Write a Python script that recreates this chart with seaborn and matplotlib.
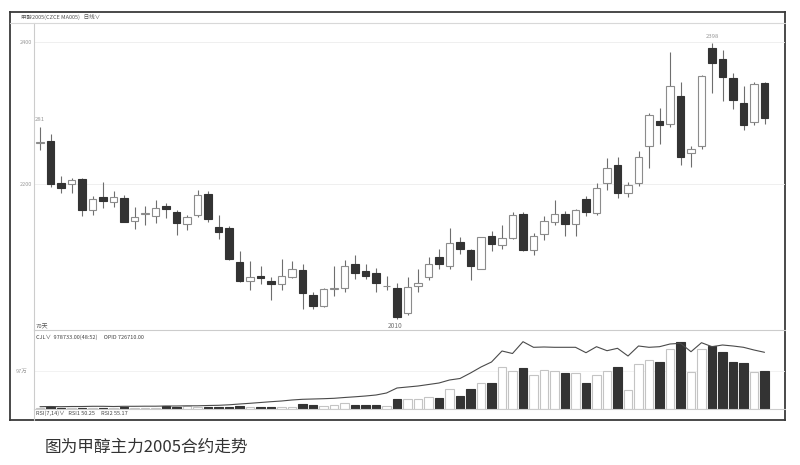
import numpy as np
import matplotlib
matplotlib.use("Agg")
import matplotlib.pyplot as plt
import seaborn as sns

# ---- data: methanol 2005 main contract, 70 daily bars -------------------------
opens = [2258, 2260, 2202, 2200, 2207, 2163, 2182, 2175, 2180, 2148,
         2158, 2155, 2169, 2161, 2143, 2157, 2186, 2139, 2138, 2090,
         2063, 2070, 2063, 2059, 2069, 2079, 2043, 2028, 2052, 2053,
         2087, 2077, 2074, 2056, 2054, 2018, 2056, 2069, 2097, 2084,
         2118, 2107, 2081, 2127, 2114, 2124, 2158, 2107, 2130, 2147,
         2158, 2143, 2179, 2159, 2201, 2227, 2187, 2201, 2253, 2289,
         2284, 2324, 2244, 2254, 2391, 2376, 2350, 2314, 2288, 2342]
highs = [2281, 2270, 2211, 2209, 2209, 2183, 2203, 2190, 2184, 2168,
         2169, 2178, 2173, 2163, 2157, 2192, 2190, 2157, 2141, 2105,
         2091, 2085, 2069, 2094, 2091, 2088, 2048, 2053, 2084, 2093,
         2100, 2088, 2082, 2070, 2060, 2069, 2080, 2097, 2108, 2138,
         2125, 2109, 2126, 2134, 2142, 2161, 2161, 2131, 2155, 2178,
         2162, 2165, 2183, 2201, 2236, 2238, 2203, 2246, 2300, 2307,
         2386, 2344, 2253, 2354, 2398, 2389, 2357, 2338, 2344, 2343]
lows = [2248, 2196, 2188, 2187, 2155, 2157, 2166, 2167, 2146, 2136,
        2142, 2145, 2152, 2128, 2135, 2154, 2147, 2122, 2093, 2062,
        2051, 2059, 2037, 2051, 2067, 2024, 2024, 2027, 2042, 2048,
        2066, 2066, 2048, 2051, 2010, 2015, 2048, 2065, 2081, 2081,
        2102, 2065, 2080, 2106, 2109, 2122, 2105, 2100, 2121, 2142,
        2127, 2127, 2155, 2156, 2192, 2180, 2182, 2197, 2222, 2257,
        2281, 2227, 2224, 2249, 2328, 2317, 2306, 2276, 2283, 2285]
closes = [2259, 2200, 2194, 2205, 2164, 2179, 2176, 2182, 2147, 2153,
          2159, 2166, 2165, 2145, 2153, 2184, 2151, 2132, 2094, 2063,
          2069, 2067, 2059, 2071, 2081, 2046, 2028, 2052, 2054, 2085,
          2075, 2071, 2060, 2057, 2013, 2055, 2061, 2088, 2087, 2117,
          2109, 2084, 2125, 2116, 2124, 2157, 2107, 2127, 2148, 2158,
          2143, 2163, 2160, 2195, 2223, 2187, 2199, 2238, 2297, 2283,
          2338, 2238, 2249, 2352, 2371, 2351, 2319, 2283, 2341, 2293]

# CJL volume, in 万
volume = [1.3, 4.3, 2.6, 2.6, 2.6, 2.6, 3.1, 2.6, 4.3, 3.3,
          3.3, 3.3, 7.7, 5.9, 7.7, 5.1, 4.3, 5.1, 5.9, 7.7,
          5.9, 5.1, 5.9, 5.1, 5.9, 12.8, 9.5, 8.4, 11.0, 14.6,
          9.5, 9.5, 11.0, 7.7, 26.3, 25.6, 25.6, 30.7, 28.9, 50.3,
          34.0, 51.1, 66.4, 66.4, 108.1, 96.3, 104.0, 86.9, 98.9, 97.1,
          91.2, 91.2, 67.2, 86.9, 97.1, 108.1, 48.5, 114.2, 125.2, 120.1,
          153.3, 170.4, 93.8, 153.3, 161.0, 146.4, 120.9, 116.8, 93.8, 97.87]

# open interest, in 万
opi = [2.95, 3.20, 2.95, 3.20, 3.20, 3.46, 3.46, 3.20, 3.46, 3.46,
       3.59, 3.59, 3.85, 3.85, 4.10, 4.10, 4.49, 4.74, 5.38, 6.41,
       7.31, 8.33, 9.36, 10.25, 11.54, 12.43, 12.82, 13.20, 13.71, 14.74,
       15.64, 16.66, 17.94, 20.51, 26.92, 28.20, 29.48, 31.40, 33.32, 37.17,
       39.09, 46.14, 53.83, 60.24, 74.34, 71.13, 86.26, 79.08, 79.47, 79.08,
       79.08, 79.08, 72.16, 79.85, 74.72, 77.80, 67.93, 80.75, 79.08, 79.85,
       83.31, 84.21, 73.44, 84.98, 79.85, 82.03, 80.75, 79.08, 75.62, 72.67]

price_ticks = [2200, 2400]
vol_ticks = [97]
vol_tick_labels = ["97万"]

title_text = "甲醇2005(CZCE MA005)   日线∨"
cjl_text = "CJL∨  978733.00(48:52)     OPID 726710.00"
rsi_text = "RSI(7,14)∨   RSI1 50.25     RSI2 55.17"
caption = "图为甲醇主力2005合约走势"

# ---- style ------------------------------------------------------------------
sns.set_theme(style="white")
plt.rcParams['font.family'] = ['Noto Sans CJK SC', 'DejaVu Sans']

W, H = 800, 465
fig = plt.figure(figsize=(8, 4.65), dpi=100)
fig.patch.set_facecolor("white")


def px_axes(left, top, right, bottom):
    # place an axes by pixel box of the picture
    return fig.add_axes([left / W, 1 - bottom / H, (right - left) / W, (bottom - top) / H])


# outer frame
frame = px_axes(10, 11.7, 785, 420)
frame.set_xticks([])
frame.set_yticks([])
frame.set_facecolor("none")
for s in frame.spines.values():
    s.set_color("#3a3a3a")
    s.set_linewidth(1.3)

o = np.array(opens, float)
h = np.array(highs, float)
l = np.array(lows, float)
c = np.array(closes, float)
x = np.arange(len(o))
up = c >= o
body_lo = np.minimum(o, c)
body_h = np.maximum(np.abs(c - o), 0.6)

xlim = (-6 / 10.5, 69 + 20.5 / 10.5)
small = 4

# ---- price panel --------------------------------------------------------------
ax = px_axes(34, 22.7, 785, 330)
ax.vlines(x, l, h, color="#6e6e6e", lw=0.8, zorder=2)
ax.bar(x[up], body_h[up], bottom=body_lo[up], width=0.76, color="white",
       edgecolor="#8c8c8c", linewidth=0.8, zorder=3)
ax.bar(x[~up], body_h[~up], bottom=body_lo[~up], width=0.76, color="#333333",
       edgecolor="#333333", linewidth=0.8, zorder=3)
ax.set_xlim(*xlim)
ax.set_ylim(1994.4, 2427.2)
ax.set_xticks([])
ax.set_yticks(price_ticks)
ax.set_yticklabels([str(t) for t in price_ticks], fontsize=small, color="#9a9a9a")
ax.tick_params(axis="y", length=0, pad=1.5)
ax.yaxis.grid(True, color="#ececec", lw=0.6)
ax.set_facecolor("none")
for side in ["top", "right"]:
    ax.spines[side].set_visible(False)
for side in ["left", "bottom"]:
    ax.spines[side].set_color("#cccccc")
    ax.spines[side].set_linewidth(0.8)

imax = int(np.argmax(h))
imin = int(np.argmin(l))
ax.annotate(str(int(h[imax])), (x[imax], h[imax]), xytext=(0, 3), textcoords="offset points",
            ha="center", va="bottom", fontsize=4.3, color="#9a9a9a")
ax.annotate(str(int(l[imin])), (x[imin], l[imin]), xytext=(-1, -2), textcoords="offset points",
            ha="center", va="top", fontsize=4.8, color="#777777")
ax.annotate(str(int(h[0]))[1:], (x[0], h[0]), xytext=(-4, 3), textcoords="offset points",
            ha="left", va="bottom", fontsize=4.3, color="#9a9a9a")
ax.text(0.002, 0.002, "70天", transform=ax.transAxes, fontsize=4.3, color="#555555",
        ha="left", va="bottom")

# ---- volume / open interest panel -----------------------------------------------
axv = px_axes(34, 330, 785, 409)
v = np.array(volume)
axv.bar(x[up], v[up], width=0.78, color="white", edgecolor="#c4c4c4", linewidth=0.8)
axv.bar(x[~up], v[~up], width=0.78, color="#333333", edgecolor="#333333", linewidth=0.8)
axv.set_xlim(*xlim)
axv.set_ylim(0, 79 * 2.555)
axv.set_xticks([])
axv.set_yticks(vol_ticks)
axv.set_yticklabels(vol_tick_labels, fontsize=small, color="#9a9a9a")
axv.tick_params(axis="y", length=0, pad=5)
axv.yaxis.grid(True, color="#f0f0f0", lw=0.6)
axv.set_facecolor("none")
for side in ["top", "right"]:
    axv.spines[side].set_visible(False)
for side in ["left", "bottom"]:
    axv.spines[side].set_color("#cccccc")
    axv.spines[side].set_linewidth(0.8)

axo = axv.twinx()
sns.lineplot(x=x, y=opi, ax=axo, color="#4a4a4a", lw=0.8)
axo.set_ylim(0, 79 * 1.2817)
axo.set_xlim(*xlim)
axo.set_yticks([])
axo.set_ylabel("")
for s in axo.spines.values():
    s.set_visible(False)

# left spine continues down to the frame
fig.add_artist(plt.Line2D([34 / W, 34 / W], [1 - 409 / H, 1 - 420 / H], color="#cccccc", lw=0.8))
# title bar separator
fig.add_artist(plt.Line2D([10 / W, 785 / W], [1 - 22.7 / H, 1 - 22.7 / H], color="#d8d8d8", lw=0.8))

# ---- labels ------------------------------------------------------------------------
fig.text(21 / W, 1 - 17 / H, title_text, fontsize=small, color="#555555", va="center", ha="left")
fig.text(36 / W, 1 - 337 / H, cjl_text, fontsize=small, color="#444444", va="center", ha="left")
fig.text(36 / W, 1 - 413 / H, rsi_text, fontsize=small, color="#444444", va="center", ha="left")
fig.text(45 / W, 1 - 447 / H, caption, fontsize=12, color="#333333", va="center", ha="left")

fig.savefig("out.png", dpi=100, facecolor="white")
